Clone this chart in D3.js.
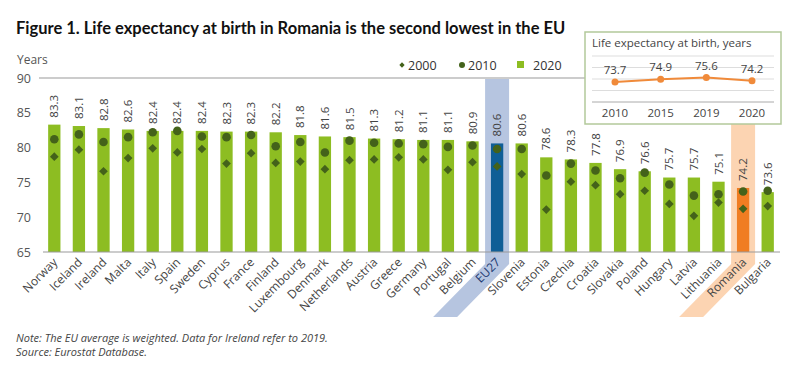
<!DOCTYPE html>
<html><head><meta charset="utf-8">
<script src="https://cdn.jsdelivr.net/npm/d3@7"></script>
<style>
body{margin:0;background:#fff;}
svg{font-family:"Open Sans",sans-serif;}
</style></head>
<body><svg id="c" width="800" height="375"></svg>
<script>
const countries=["Norway","Iceland","Ireland","Malta","Italy","Spain","Sweden","Cyprus","France","Finland","Luxembourg","Denmark","Netherlands","Austria","Greece","Germany","Portugal","Belgium","EU27","Slovenia","Estonia","Czechia","Croatia","Slovakia","Poland","Hungary","Latvia","Lithuania","Romania","Bulgaria"];
const v2020=[83.3,83.1,82.8,82.6,82.4,82.4,82.4,82.3,82.3,82.2,81.8,81.6,81.5,81.3,81.2,81.1,81.1,80.9,80.6,80.6,78.6,78.3,77.8,76.9,76.6,75.7,75.7,75.1,74.2,73.6];
const v2010=[81.2,81.9,80.8,81.5,82.2,82.4,81.6,81.5,81.8,80.2,80.8,79.3,81.0,80.7,80.6,80.5,80.1,80.3,79.8,79.8,76.0,77.7,76.7,75.6,76.4,74.7,73.1,73.3,73.7,73.8];
const v2000=[78.7,79.7,76.6,78.5,79.9,79.3,79.8,77.7,79.2,77.8,78.0,76.9,78.2,78.3,78.6,78.3,76.8,77.9,77.3,76.2,71.1,75.1,74.6,73.3,73.8,71.9,70.2,72.1,71.2,71.6];
const yTicks=[65,70,75,80,85,90];
const insetYears=["2010","2015","2019","2020"];
const insetValues=[73.7,74.9,75.6,74.2];
const legendItems=["2000","2010","2020"];

const svg=d3.select("#c");
const green="#8dbd22", dark="#44621a", blue="#0f5e96", orange="#f07d22";
const x=d3.scaleBand().domain(countries).range([42,780]).paddingInner(0.5).paddingOuter(0.25);
const y=d3.scaleLinear().domain([65,90]).range([252,78]);

// title
svg.append("text").attr("x",16).attr("y",34).attr("font-family","Lato").attr("font-weight","bold").attr("font-size",16.5).attr("fill","#111")
 .text("Figure 1. Life expectancy at birth in Romania is the second lowest in the EU");

// highlight bands
function band(name,top,col){
  const cx=x(name), w=x.bandwidth(), l=cx+w/2-12, r=cx+w/2+12, bend=264, bot=317, d=52;
  svg.append("path").attr("d",`M${l},${top}L${r},${top}L${r},${bend}L${r-d},${bot}L${l-d},${bot}L${l},${bend}Z`).attr("fill",col);
}
band("EU27",79,"#b6c5e0");
band("Romania",124,"#fcd4b2");

// axis
svg.append("text").attr("x",17).attr("y",64).attr("font-size",12).attr("fill","#555").text("Years");
svg.selectAll(".yt").data(yTicks).join("text").attr("x",31).attr("y",d=>y(d)+4.5).attr("text-anchor","end").attr("font-size",12.5).attr("fill","#555").text(d=>d);
svg.append("line").attr("x1",39).attr("x2",780).attr("y1",y(90)).attr("y2",y(90)).attr("stroke","#999").attr("stroke-width",1);

// bars
svg.selectAll(".bar").data(countries).join("rect")
 .attr("x",d=>x(d)).attr("width",x.bandwidth())
 .attr("y",(d,i)=>y(v2020[i])).attr("height",(d,i)=>y(65)-y(v2020[i]))
 .attr("fill",d=>d==="EU27"?blue:d==="Romania"?orange:green);
svg.append("line").attr("x1",43).attr("x2",780).attr("y1",y(65)).attr("y2",y(65)).attr("stroke","#999").attr("stroke-width",1.2);

// markers
const cx=d=>x(d)+x.bandwidth()/2;
svg.selectAll(".d00").data(countries).join("path")
 .attr("d",d3.symbol(d3.symbolSquare,38)())
 .attr("transform",(d,i)=>`translate(${cx(d)},${y(v2000[i])}) rotate(45)`).attr("fill",dark);
svg.selectAll(".d10").data(countries).join("circle")
 .attr("cx",cx).attr("cy",(d,i)=>y(v2010[i])).attr("r",4.3).attr("fill",dark);

// value labels
svg.selectAll(".vl").data(countries).join("text")
 .attr("transform",(d,i)=>`translate(${cx(d)+4},${y(v2020[i])-7}) rotate(-90)`)
 .attr("font-size",11.5).attr("fill","#444").text((d,i)=>v2020[i].toFixed(1));

// category labels
svg.selectAll(".cl").data(countries).join("text")
 .attr("transform",d=>`translate(${cx(d)+4},${263}) rotate(-45)`)
 .attr("text-anchor","end").attr("font-size",12).attr("fill",d=>d==="EU27"?"#1d3a70":"#444").text(d=>d);

// legend
const lg=svg.append("g");
const lx=[402,462,520], tx=[408,468,533];
lg.append("path").attr("d",d3.symbol(d3.symbolSquare,14)()).attr("transform",`translate(${lx[0]},65) rotate(45)`).attr("fill",dark);
lg.append("circle").attr("cx",lx[1]).attr("cy",65).attr("r",3).attr("fill",dark);
lg.append("rect").attr("x",lx[2]-3).attr("y",61).attr("width",7).attr("height",7).attr("fill",green);
lg.selectAll("text").data(legendItems).join("text").attr("x",(d,i)=>tx[i]).attr("y",69.5).attr("font-size",12.5).attr("fill","#333").text(d=>d);

// inset
const ig=svg.append("g");
ig.append("rect").attr("x",585).attr("y",32).attr("width",196).attr("height",92).attr("fill","#fff").attr("stroke","#b3c99a").attr("stroke-width",1.5);
ig.append("text").attr("x",592).attr("y",47).attr("font-size",11.5).attr("fill","#444").text("Life expectancy at birth, years");
const ix=d3.scalePoint().domain(insetYears).range([615,752]);
const iy=d3.scaleLinear().domain([65,85]).range([102,56]);
ig.selectAll(".g").data([70,75,80,85]).join("line").attr("x1",592).attr("x2",774).attr("y1",d=>iy(d)).attr("y2",d=>iy(d)).attr("stroke","#ddd");
ig.append("line").attr("x1",592).attr("x2",774).attr("y1",iy(65)).attr("y2",iy(65)).attr("stroke","#aaa");
ig.append("path").datum(insetValues).attr("d",d3.line().x((d,i)=>ix(insetYears[i])).y(d=>iy(d))).attr("fill","none").attr("stroke","#f08a3a").attr("stroke-width",2);
ig.selectAll(".ip").data(insetValues).join("circle").attr("cx",(d,i)=>ix(insetYears[i])).attr("cy",d=>iy(d)).attr("r",3.5).attr("fill","#f08a3a");
ig.selectAll(".il").data(insetValues).join("text").attr("x",(d,i)=>ix(insetYears[i])).attr("y",d=>iy(d)-8).attr("text-anchor","middle").attr("font-size",11.5).attr("fill","#444").text(d=>d.toFixed(1));
ig.selectAll(".iyl").data(insetYears).join("text").attr("x",d=>ix(d)).attr("y",117).attr("text-anchor","middle").attr("font-size",11.5).attr("fill","#444").text(d=>d);

// notes
svg.append("text").attr("x",16).attr("y",342).attr("font-size",11).attr("font-style","italic").attr("fill","#444").text("Note: The EU average is weighted. Data for Ireland refer to 2019.");
svg.append("text").attr("x",16).attr("y",356).attr("font-size",11).attr("font-style","italic").attr("fill","#444").text("Source: Eurostat Database.");
</script></body></html>
